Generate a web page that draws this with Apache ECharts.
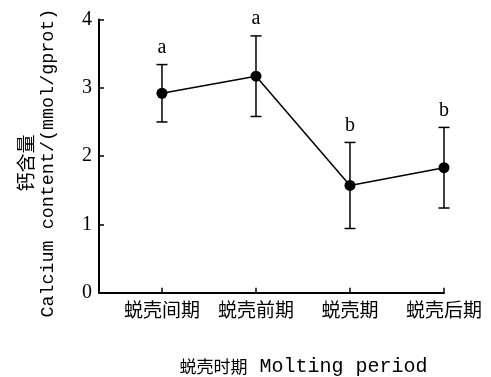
<!DOCTYPE html>
<html><head><meta charset="utf-8">
<script src="https://cdn.jsdelivr.net/npm/echarts@6/dist/echarts.min.js"></script>
<style>html,body{margin:0;padding:0;background:#fff}#c{width:491px;height:377px}</style>
</head><body><div id="c"></div>
<script>
const categories = ['蜕壳间期', '蜕壳前期', '蜕壳期', '蜕壳后期'];
const means = [2.92, 3.17, 1.57, 1.83];
const sds = [0.42, 0.59, 0.63, 0.59];
const letters = ['a', 'a', 'b', 'b'];
const yTicks = [0, 1, 2, 3, 4];

const lineData = means.map((m, i) => [i, m]);
const errData = means.map((m, i) => [i, m - sds[i], m + sds[i], i]);

const chart = echarts.init(document.getElementById('c'), null, {renderer: 'canvas'});
const serif = '"Liberation Serif", "Times New Roman", serif';
const mono = '"Liberation Mono", "DejaVu Sans Mono", monospace';
const cjk = '"Noto Sans CJK SC", sans-serif';

chart.setOption({
  animation: false,
  backgroundColor: '#fff',
  grid: {left: 99, right: 47, top: 19.5, bottom: 84.3, containLabel: false, outerBoundsMode: 'none'},
  xAxis: {
    type: 'value', min: -0.67, max: 3,
    axisLine: {show: true, onZero: false, lineStyle: {color: '#000', width: 2}},
    axisTick: {show: true, inside: true, length: 5, lineStyle: {color: '#000', width: 1.5}, customValues: [0, 1, 2, 3]},
    axisLabel: {
      customValues: [0, 1, 2, 3],
      formatter: v => categories[Math.round(v)] || '',
      fontFamily: cjk, fontSize: 19, color: '#000', margin: 8
    },
    splitLine: {show: false},
    name: '{cn|蜕壳时期}{en| Molting period}',
    nameLocation: 'middle', nameGap: 64,
    nameTextStyle: {
      padding: [0, 0, 0, 64],
      rich: {
        cn: {fontFamily: cjk, fontSize: 17, color: '#000'},
        en: {fontFamily: mono, fontSize: 20, color: '#000'}
      }
    }
  },
  yAxis: {
    type: 'value', min: 0, max: 4, interval: 1,
    axisLine: {show: true, onZero: false, lineStyle: {color: '#000', width: 2}},
    axisTick: {show: true, inside: true, length: 5, lineStyle: {color: '#000', width: 1.5}},
    axisLabel: {fontFamily: serif, fontSize: 20, color: '#000', margin: 7,
      formatter: v => yTicks.includes(v) ? String(v) : ''},
    splitLine: {show: false},
    name: '{cn|钙含量}\n{en|Calcium content/(mmol/gprot)}',
    nameLocation: 'middle', nameRotate: 90, nameGap: 40,
    nameTextStyle: {
      align: 'center',
      padding: [0, 14, 0, 0],
      rich: {
        cn: {fontFamily: cjk, fontSize: 19, color: '#000', lineHeight: 22, align: 'center'},
        en: {fontFamily: mono, fontSize: 18.4, color: '#000', lineHeight: 22, align: 'center'}
      }
    }
  },
  series: [
    {
      type: 'custom',
      data: errData,
      z: 2,
      renderItem: function (params, api) {
        const x = api.value(0);
        const lo = api.coord([x, api.value(1)]);
        const hi = api.coord([x, api.value(2)]);
        const cap = 5.5;
        const st = {stroke: '#000', lineWidth: 1.5};
        return {
          type: 'group',
          children: [
            {type: 'line', shape: {x1: lo[0], y1: lo[1], x2: hi[0], y2: hi[1]}, style: st},
            {type: 'line', shape: {x1: hi[0] - cap, y1: hi[1], x2: hi[0] + cap, y2: hi[1]}, style: st},
            {type: 'line', shape: {x1: lo[0] - cap, y1: lo[1], x2: lo[0] + cap, y2: lo[1]}, style: st},
            {type: 'text', style: {
              text: letters[api.value(3)], x: hi[0], y: hi[1] - 17,
              align: 'center', verticalAlign: 'middle',
              font: '20px ' + serif, fill: '#000'
            }}
          ]
        };
      }
    },
    {
      type: 'line',
      data: lineData,
      z: 3,
      symbol: 'circle', symbolSize: 11,
      lineStyle: {color: '#000', width: 1.5},
      itemStyle: {color: '#000'}
    }
  ]
});
</script></body></html>
